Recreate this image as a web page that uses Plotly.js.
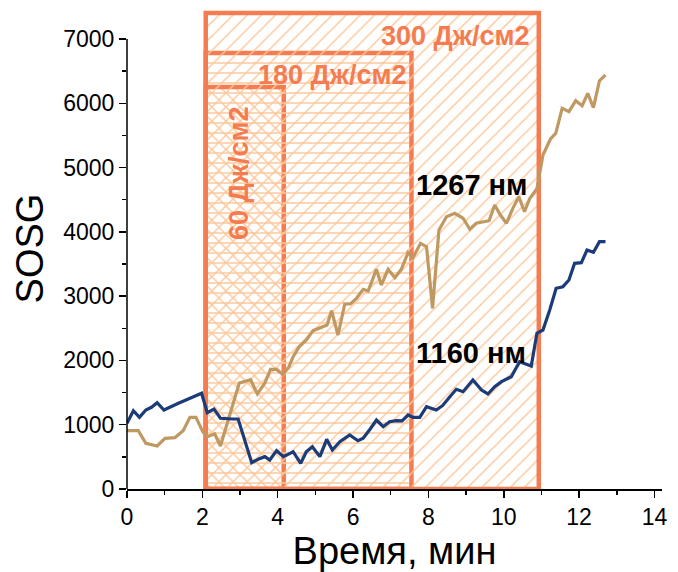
<!DOCTYPE html>
<html>
<head>
<meta charset="utf-8">
<script src="https://cdn.plot.ly/plotly-3.0.1.min.js"></script>
<style>html,body{margin:0;padding:0;background:#fff;}#chart{width:678px;height:572px;}</style>
</head>
<body>
<div id="chart"></div>
<script>
// ---- data ----
const t1267 = [0, 0.15, 0.30, 0.50, 0.80, 1.01, 1.27, 1.49, 1.67, 1.83, 2.01, 2.13, 2.33, 2.48, 2.98, 3.28, 3.46, 3.66, 3.81, 3.97, 4.13, 4.30, 4.41, 4.57, 4.76, 4.94, 5.12, 5.31, 5.43, 5.60, 5.78, 5.93, 6.09, 6.27, 6.40, 6.62, 6.75, 6.93, 7.11, 7.28, 7.46, 7.59, 7.79, 7.95, 8.11, 8.28, 8.48, 8.70, 8.92, 9.10, 9.27, 9.45, 9.61, 9.76, 9.91, 10.07, 10.24, 10.40, 10.55, 10.69, 10.88, 11.04, 11.24, 11.38, 11.55, 11.73, 11.91, 12.08, 12.23, 12.38, 12.54, 12.70];
const v1267 = [907, 907, 907, 711, 669, 789, 798, 907, 1115, 1115, 891, 813, 855, 669, 1650, 1700, 1480, 1650, 1862, 1860, 1784, 1903, 2058, 2213, 2318, 2463, 2500, 2551, 2773, 2395, 2878, 2880, 2966, 3106, 3080, 3417, 3173, 3417, 3287, 3417, 3676, 3598, 3821, 3769, 2811, 4030, 4236, 4288, 4211, 4040, 4133, 4158, 4173, 4417, 4262, 4133, 4366, 4547, 4313, 4520, 4670, 5195, 5444, 5533, 5922, 5869, 6040, 5962, 6155, 5931, 6351, 6440];

const t1160 = [0, 0.17, 0.33, 0.50, 0.65, 0.80, 0.98, 1.15, 1.35, 1.55, 1.75, 1.98, 2.13, 2.31, 2.48, 2.65, 2.80, 2.95, 3.31, 3.48, 3.66, 3.79, 3.97, 4.15, 4.41, 4.61, 4.76, 4.92, 5.12, 5.30, 5.45, 5.65, 5.91, 6.13, 6.27, 6.45, 6.62, 6.80, 6.97, 7.15, 7.30, 7.46, 7.59, 7.77, 7.95, 8.21, 8.38, 8.57, 8.74, 8.92, 9.18, 9.41, 9.58, 9.76, 9.94, 10.20, 10.42, 10.73, 10.88, 11.04, 11.22, 11.39, 11.57, 11.73, 11.88, 12.06, 12.21, 12.38, 12.54, 12.70];
const v1160 = [1022, 1218, 1115, 1229, 1271, 1343, 1229, 1280, 1330, 1380, 1430, 1489, 1187, 1244, 1100, 1089, 1089, 1089, 409, 462, 503, 451, 596, 503, 580, 400, 580, 658, 503, 773, 607, 736, 840, 751, 789, 930, 1073, 969, 1047, 1063, 1060, 1151, 1115, 1115, 1280, 1229, 1300, 1436, 1551, 1513, 1695, 1540, 1478, 1591, 1669, 1747, 1980, 1913, 2422, 2473, 2784, 3122, 3147, 3251, 3511, 3520, 3718, 3682, 3847, 3847];

const doseLabels = ['60 Дж/см2', '180 Дж/см2', '300 Дж/см2'];
const doseStart = [2.09, 2.09, 2.09];
const doseEnd = [4.16, 7.55, 10.93];
const doseTop = [6253, 6782, 7404];
const dosePattern = ['\\', '-', '/'];

const seriesLabels = ['1267 нм', '1160 нм'];

const xTickVals = [0, 2, 4, 6, 8, 10, 12, 14];
const yTickVals = [0, 1000, 2000, 3000, 4000, 5000, 6000, 7000];

// ---- style ----
const coral = '#f47c50';
const hatch = '#fcc89c';
const navy = '#1b3c78';
const tan = '#c09862';
const FONT = 'Liberation Sans, Arial, sans-serif';
const yMax = 7482;

const traces = [];
for (let i = 0; i < doseLabels.length; i++) {
  traces.push({
    type: 'bar',
    x: [(doseStart[i] + doseEnd[i]) / 2],
    y: [doseTop[i]],
    base: [0],
    width: [doseEnd[i] - doseStart[i]],
    marker: {
      color: 'rgba(0,0,0,0)',
      line: {color: coral, width: 4.5},
      pattern: {shape: dosePattern[i], fgcolor: hatch, bgcolor: 'rgba(0,0,0,0)', fillmode: 'replace', size: 10, solidity: 0.15}
    },
    hoverinfo: 'skip',
    showlegend: false
  });
}
traces.push({type: 'scatter', mode: 'lines', x: t1267, y: v1267, line: {color: tan, width: 3.2}, showlegend: false});
traces.push({type: 'scatter', mode: 'lines', x: t1160, y: v1160, line: {color: navy, width: 3.2}, showlegend: false});

const annotations = [
  {x: 10.71, y: 7046, text: '<b>' + doseLabels[2] + '</b>', xanchor: 'right', yanchor: 'middle', showarrow: false, font: {family: FONT, size: 27, color: coral}},
  {x: 7.45, y: 6440, text: '<b>' + doseLabels[1] + '</b>', xanchor: 'right', yanchor: 'middle', showarrow: false, font: {family: FONT, size: 27, color: coral}},
  {x: 2.97, y: 4915, text: '<b>' + doseLabels[0] + '</b>', textangle: -90, xanchor: 'center', yanchor: 'middle', showarrow: false, font: {family: FONT, size: 27, color: coral}},
  {x: 7.62, y: 4736, text: '<b>' + seriesLabels[0] + '</b>', xanchor: 'left', yanchor: 'middle', showarrow: false, font: {family: FONT, size: 29, color: '#000'}},
  {x: 7.62, y: 2108, text: '<b>' + seriesLabels[1] + '</b>', xanchor: 'left', yanchor: 'middle', showarrow: false, font: {family: FONT, size: 29, color: '#000'}}
];

const layout = {
  width: 678, height: 572,
  margin: {l: 127, r: 15.5, t: 8, b: 83},
  paper_bgcolor: '#fff', plot_bgcolor: '#fff',
  barmode: 'overlay',
  font: {family: FONT, color: '#000'},
  xaxis: {
    range: [0, 14.2], showgrid: false, zeroline: false,
    showline: true, linecolor: '#000', linewidth: 1.5,
    ticks: 'outside', ticklen: 7, tickwidth: 1.5, tickcolor: '#000',
    tickvals: xTickVals, tickfont: {family: FONT, size: 23},
    minor: {dtick: 1, ticks: 'outside', ticklen: 4, tickwidth: 1.5, tickcolor: '#000', showgrid: false},
    title: {text: 'Время, мин', font: {family: FONT, size: 38}, standoff: 2}
  },
  yaxis: {
    range: [0, yMax], showgrid: false, zeroline: false,
    showline: false,
    ticks: 'outside', ticklen: 7, tickwidth: 1.5, tickcolor: '#000',
    tickvals: yTickVals, tickfont: {family: FONT, size: 23},
    minor: {tickvals: [500, 1500, 2500, 3500, 4500, 5500, 6500], ticks: 'outside', ticklen: 4, tickwidth: 1.5, tickcolor: '#000', showgrid: false},
    title: {text: 'SOSG', font: {family: FONT, size: 38}, standoff: 7}
  },
  shapes: [
    {type: 'line', xref: 'paper', yref: 'paper', x0: 0, x1: 0, y0: 0, y1: 7000 / yMax, line: {color: '#000', width: 1.5}}
  ],
  annotations: annotations,
  showlegend: false
};

Plotly.newPlot('chart', traces, layout, {staticPlot: true, displayModeBar: false});
</script>
</body>
</html>
